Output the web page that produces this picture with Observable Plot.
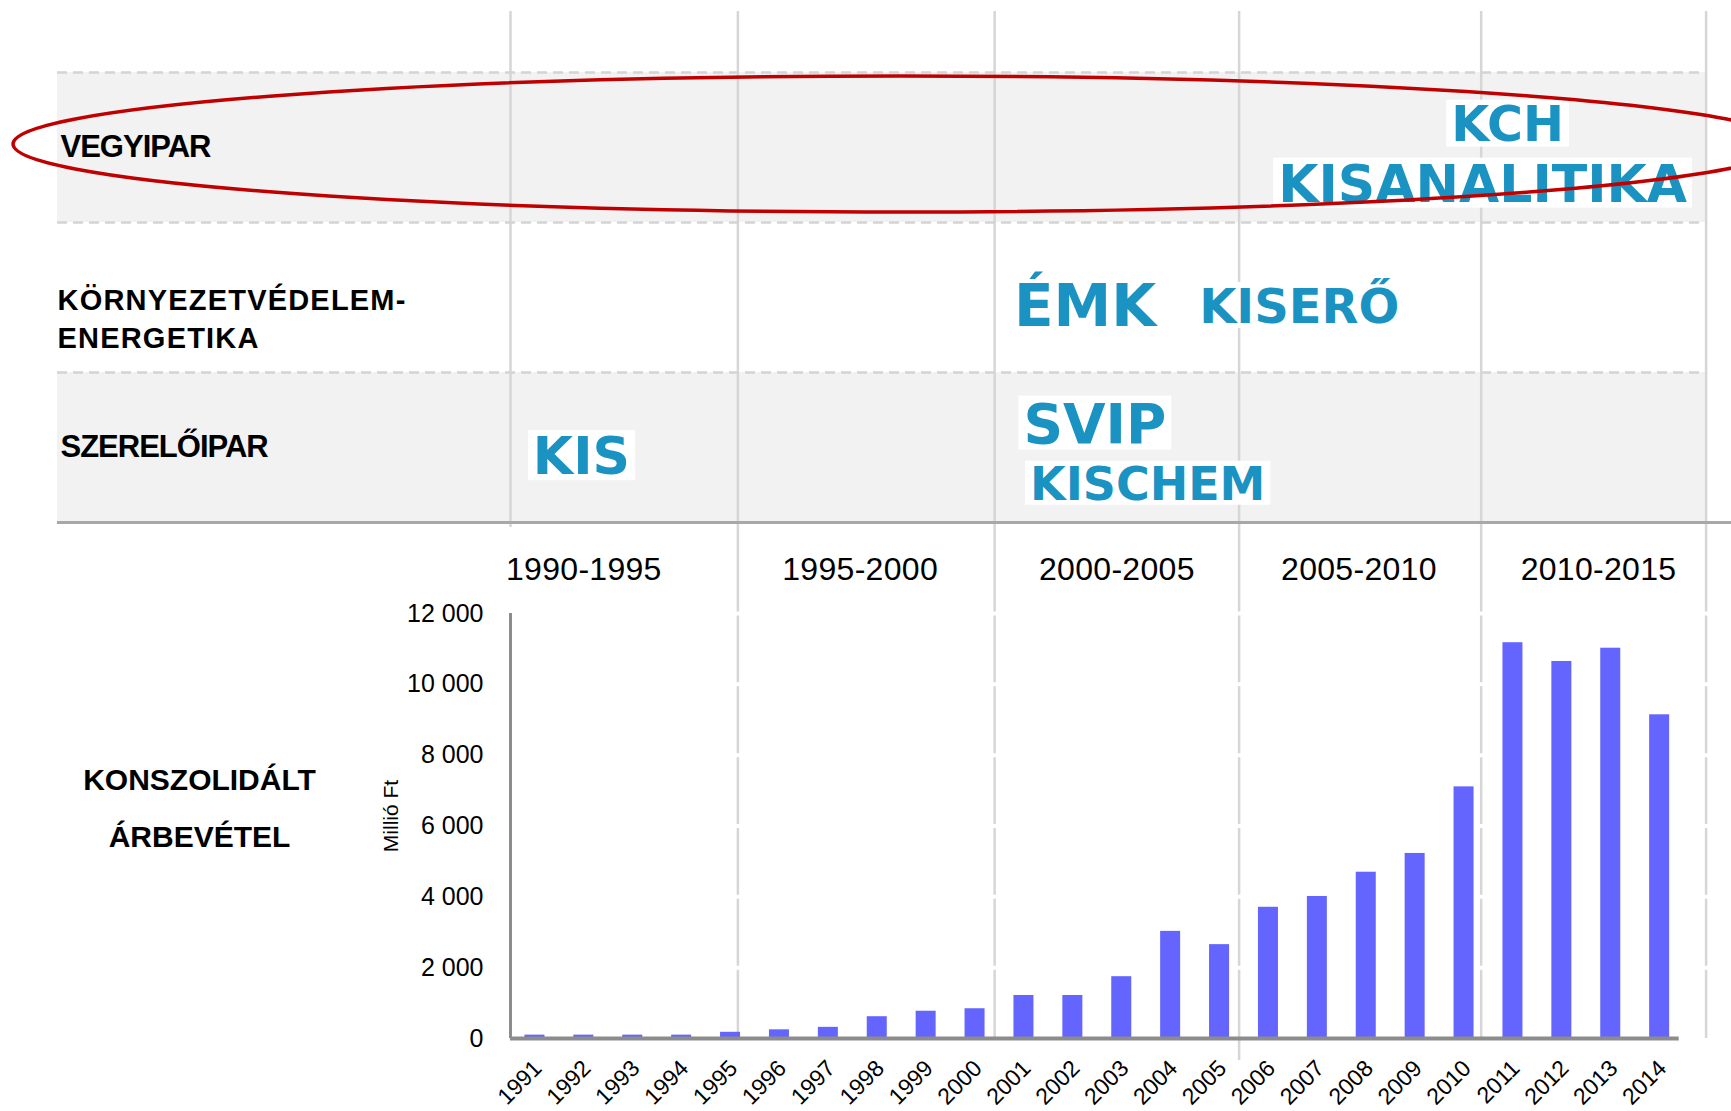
<!DOCTYPE html>
<html>
<head>
<meta charset="utf-8">
<script src="https://cdn.jsdelivr.net/npm/d3@7"></script>
<script src="https://cdn.jsdelivr.net/npm/@observablehq/plot@0.6"></script>
<style>
  html, body { margin: 0; padding: 0; background: #fff; overflow: hidden; }
  #chart svg { display: block; }
</style>
</head>
<body>
<div id="chart"></div>
<script>
// ---------- data ----------
const years   = [1991, 1992, 1993, 1994, 1995, 1996, 1997, 1998, 1999, 2000, 2001, 2002,
                 2003, 2004, 2005, 2006, 2007, 2008, 2009, 2010, 2011, 2012, 2013, 2014];
const revenue = [95, 95, 95, 95, 175, 245, 315, 615, 770, 840, 1215, 1215,
                 1745, 3025, 2650, 3705, 4010, 4695, 5225, 7105, 11175, 10645, 11020, 9140];
const yTicks = [0, 2000, 4000, 6000, 8000, 10000, 12000];

const rowLabels = ["VEGYIPAR", "KÖRNYEZETVÉDELEM-\nENERGETIKA", "SZERELŐIPAR"];
const periodLabels = ["1990-1995", "1995-2000", "2000-2005", "2005-2010", "2010-2015"];
const periodLabelX = [1992.5, 1998.15, 2003.4, 2008.35, 2013.25];
const periodEdges  = [1991, 1995.65, 2000.9, 2005.9, 2010.85, 2015.45];

const logoNames = ["KIS", "ÉMK", "KISERŐ", "SVIP", "KISCHEM", "KCH", "KISANALITIKA"];
const logoRow   = [2, 1, 1, 2, 2, 0, 0];
const logoYear  = [1992.45, 2002.75, 2007.13, 2002.95, 2004.03, 2011.39, 2010.88];
const logoLine  = [0, 0, 0, -1, 1, -1, 1];   // -1 upper, 0 single, 1 lower

// ---------- layout / style ----------
const W = 1731;
const PX_PER_YEAR = 48.9, X0 = 1991, AXIS_LEFT = 510;
const xPix = d3.scaleLinear([X0, X0 + (W - AXIS_LEFT) / PX_PER_YEAR], [AXIS_LEFT, W]);
const font = "'Liberation Sans', Arial, Helvetica, sans-serif";
const gridGray = "#d6d6d6";
const logoSize = {"KIS": 52, "ÉMK": 58, "KISERŐ": 48, "SVIP": 55, "KISCHEM": 46, "KCH": 49, "KISANALITIKA": 52};
const lineShift = {"-1": -0.15, "0": 0.067, "1": 0.25};

const data = years.map((year, i) => ({year, value: revenue[i]}));
const fmt = d3.formatLocale({decimal: ",", thousands: " ", grouping: [3], currency: ["", ""]}).format(",");

// ---------- upper table ----------
const TL = 57, TR = 24, TT = 72, TB = 68, TH = 590;
const table = Plot.plot({
  width: W, height: TH,
  marginLeft: TL, marginRight: TR, marginTop: TT, marginBottom: TB,
  x: {domain: [xPix.invert(TL), xPix.invert(W - TR)], axis: null},
  y: {domain: [0, 3], range: [TT, TH - TB], axis: null},
  style: {fontFamily: font, background: "white", color: "black"},
  marks: [
    Plot.rect([0, 2], {y1: d => d, y2: d => d + 1, fill: "#f2f2f2"}),
    Plot.ruleX(periodEdges.slice(1), {stroke: gridGray, strokeWidth: 2.5, insetTop: -(TT - 11), insetBottom: -TB}),
    Plot.ruleX(periodEdges.slice(0, 1), {stroke: gridGray, strokeWidth: 2.5, insetTop: -(TT - 11), insetBottom: -5}),
    Plot.ruleY([0, 1, 2], {stroke: "#d4d4d4", strokeWidth: 2.5, strokeDasharray: "10,6"}),
    Plot.ruleY([3], {x1: xPix.invert(TL), x2: xPix.invert(W), stroke: "#a8a8a8", strokeWidth: 3}),
    Plot.text([0, 2], {
      frameAnchor: "left", y: d => d + 0.5, text: d => rowLabels[d],
      textAnchor: "start", dx: 3, fontSize: 31, fontWeight: "bold", fill: "black"
    }),
    Plot.text([1], {
      frameAnchor: "left", y: d => d + 0.5, text: d => rowLabels[d],
      textAnchor: "start", dx: 0, dy: 19.5, lineHeight: 1.3, fontSize: 29, fontWeight: "bold", fill: "black"
    }),
    Plot.text(logoNames.map((_, i) => i), {
      x: i => logoYear[i],
      y: i => logoRow[i] + 0.5 + lineShift[logoLine[i]],
      text: i => logoNames[i],
      fill: "#1a93c3", fontFamily: "'DejaVu Sans', sans-serif", fontWeight: "bold",
      fontSize: i => logoSize[logoNames[i]]
    }),
    Plot.text(periodLabels, {
      x: (d, i) => periodLabelX[i], text: d => d, frameAnchor: "bottom", lineAnchor: "middle", dy: 47,
      fontSize: 32, fill: "black"
    })
  ]
});

// ---------- revenue bar chart ----------
const BT = 23, BB = 73, BH = 1111 - TH;
const bars = Plot.plot({
  width: W, height: BH,
  marginLeft: AXIS_LEFT, marginRight: 0, marginTop: BT, marginBottom: BB,
  x: {domain: xPix.domain(), axis: null},
  y: {domain: [0, 12000], axis: null},
  style: {fontFamily: font, background: "white", color: "black"},
  marks: [
    Plot.ruleX(periodEdges.filter((e, i) => i > 0 && i !== 3), {stroke: gridGray, strokeWidth: 2.5, insetTop: -BT}),
    Plot.ruleX([periodEdges[3]], {stroke: gridGray, strokeWidth: 2.5, insetTop: -BT, insetBottom: -22}),
    Plot.ruleY(yTicks.slice(1), {stroke: "white", strokeWidth: 4}),
    Plot.rect(data, {
      x1: d => d.year, x2: d => d.year + 1, y1: () => 0, y2: d => d.value,
      insetLeft: (PX_PER_YEAR - 20) / 2, insetRight: (PX_PER_YEAR - 20) / 2, fill: "#6464ff"
    }),
    Plot.ruleX([X0], {y1: () => 0, y2: () => 12000, stroke: "#8c8c8c", strokeWidth: 3}),
    Plot.ruleY([0], {x1: () => X0, x2: () => 2014.9, stroke: "#8c8c8c", strokeWidth: 4}),
    Plot.text(yTicks, {
      frameAnchor: "left", y: d => d, text: d => fmt(d), textAnchor: "end", dx: -27, fontSize: 25, fill: "black"
    }),
    Plot.text(data, {
      x: d => d.year + 0.5, y: () => 0, text: d => String(d.year), rotate: -45,
      textAnchor: "end", dx: 3, dy: 26, fontSize: 23, fill: "black"
    }),
    Plot.text(["Millió Ft"], {
      text: d => d, frameAnchor: "left", textAnchor: "middle", lineAnchor: "middle",
      dx: -119, dy: -10, rotate: -90, fontSize: 21, fill: "black"
    }),
    Plot.text(["KONSZOLIDÁLT\nÁRBEVÉTEL"], {
      text: d => d, frameAnchor: "left", textAnchor: "middle", lineAnchor: "middle",
      dx: -311, dy: -25.5, fontSize: 30, fontWeight: "bold", lineHeight: 1.87, fill: "black"
    })
  ]
});

const root = document.getElementById("chart");
root.append(table, bars);

const NS = "http://www.w3.org/2000/svg";
const logoSet = new Set(logoNames);
table.querySelectorAll("text").forEach(t => {
  const s = t.textContent;
  if (s === "VEGYIPAR" || s === "SZERELŐIPAR") t.style.letterSpacing = "-1px";
  else if (s.startsWith("KÖRNYEZET")) t.style.letterSpacing = "1.2px";
  else if (periodLabels.includes(s)) t.style.letterSpacing = "0.3px";
  else if (logoSet.has(s)) {
    // white backing box behind each company logo
    const b = t.getBBox();
    const r = document.createElementNS(NS, "rect");
    r.setAttribute("x", b.x - 5);
    r.setAttribute("y", b.y + 4);
    r.setAttribute("width", b.width + 10);
    r.setAttribute("height", Math.max(0, b.height - 10));
    r.setAttribute("fill", "white");
    const tr = t.getAttribute("transform");
    if (tr) r.setAttribute("transform", tr);
    t.parentNode.insertBefore(r, t);
  }
});

// hand-drawn red highlight around the VEGYIPAR row
const yRow = d3.scaleLinear([0, 3], [TT, TH - TB]);
const leftTip = TL - 44, rightTip = W + 58;
const ell = document.createElementNS(NS, "ellipse");
ell.setAttribute("cx", (leftTip + rightTip) / 2);
ell.setAttribute("rx", (rightTip - leftTip) / 2);
ell.setAttribute("cy", yRow(0.5) - 3);
ell.setAttribute("ry", (yRow(1) - yRow(0)) * 0.453);
ell.setAttribute("fill", "none");
ell.setAttribute("stroke", "#c00000");
ell.setAttribute("stroke-width", 3.5);
table.appendChild(ell);
</script>
</body>
</html>
